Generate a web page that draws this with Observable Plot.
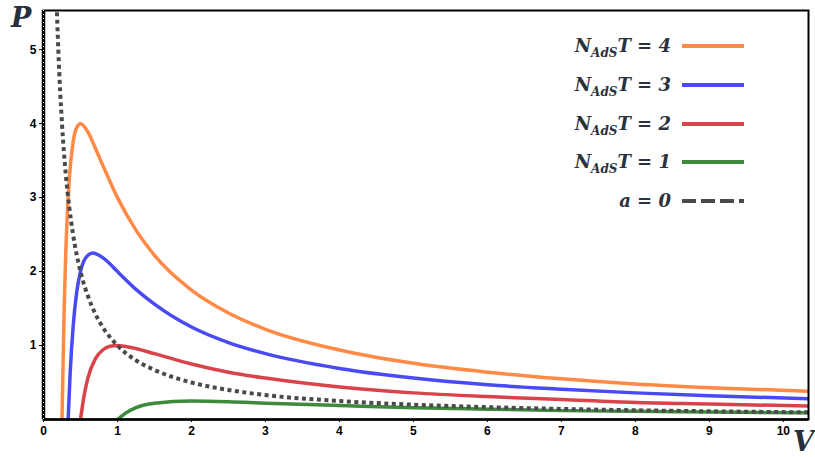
<!DOCTYPE html>
<html><head>
<meta charset="utf-8">
<script src="https://cdn.jsdelivr.net/npm/d3@7"></script>
<script src="https://cdn.jsdelivr.net/npm/@observablehq/plot@0.6"></script>
<style>
body{margin:0;background:#fff;}
#wrap{position:relative;width:815px;height:457px;overflow:hidden;}
.lab{position:absolute;font-family:"DejaVu Serif",serif;font-weight:bold;font-style:italic;color:#26303d;line-height:1;}
.row{position:absolute;left:0;width:815px;height:30px;}
.txt{position:absolute;right:144px;top:0;font-family:"DejaVu Serif",serif;font-weight:bold;font-style:italic;font-size:18px;color:#2a323e;white-space:nowrap;line-height:30px;}
.txt sub{font-size:12px;vertical-align:-5px;line-height:0;}
.sw{position:absolute;left:682px;width:62px;top:13px;height:4px;}
</style>
</head><body><div id="wrap"></div>
<script>
// N_AdS T = 4
const V4 = [0.25,0.28,0.3,0.35,0.4,0.45,0.5,0.6,0.7,0.8,1,1.25,1.5,2,2.5,3,4,5,6,7,8,9,10.4];
const P4 = [0,1.53,2.22,3.27,3.75,3.95,4,3.89,3.67,3.44,3,2.56,2.22,1.75,1.44,1.22,0.94,0.76,0.64,0.55,0.48,0.43,0.38];
// N_AdS T = 3
const V3 = [0.333,0.36,0.4,0.45,0.5,0.6,0.667,0.75,0.85,1,1.25,1.5,2,2.5,3,4,5,6,7,8,9,10.4];
const P3 = [0,0.62,1.25,1.73,2,2.22,2.25,2.22,2.15,2,1.76,1.56,1.25,1.04,0.89,0.69,0.56,0.47,0.41,0.36,0.32,0.28];
// N_AdS T = 2
const V2 = [0.5,0.55,0.6,0.7,0.8,0.9,1,1.2,1.5,2,2.5,3,4,5,6,7,8,9,10.4];
const P2 = [0,0.33,0.56,0.82,0.94,0.99,1,0.97,0.89,0.75,0.64,0.56,0.44,0.36,0.31,0.27,0.23,0.21,0.18];
// N_AdS T = 1
const V1 = [1,1.1,1.25,1.5,2,2.5,3,4,5,6,7,8,9,10.4];
const P1 = [0,0.08,0.16,0.22,0.25,0.24,0.22,0.19,0.16,0.14,0.12,0.11,0.10,0.09];
// a = 0
const V0 = [0.175,0.2,0.25,0.3,0.35,0.4,0.5,0.6,0.7,0.8,1,1.25,1.5,2,2.5,3,4,5,6,7,8,9,10.4];
const P0 = [5.71,5,4,3.33,2.86,2.5,2,1.67,1.43,1.25,1,0.8,0.67,0.5,0.4,0.33,0.25,0.2,0.167,0.143,0.125,0.111,0.096];

const xTicks = [0,1,2,3,4,5,6,7,8,9,10];
const yTicks = [1,2,3,4,5];
const seriesNames = ["N_AdS T = 4","N_AdS T = 3","N_AdS T = 2","N_AdS T = 1","a = 0"];
const seriesColors = ["#ff8a45","#4a4af5","#d9444a","#3d8a3d","#4a4a4a"];

const toRows = (V,P) => V.map((v,i)=>({V:v,P:P[i]}));
const s4 = toRows(V4,P4), s3 = toRows(V3,P3), s2 = toRows(V2,P2), s1 = toRows(V1,P1), s0 = toRows(V0,P0);

const chart = Plot.plot({
  width: 815, height: 457,
  marginLeft: 43, marginRight: 7, marginTop: 10, marginBottom: 38,
  style: {fontFamily: "'Liberation Sans', Arial, sans-serif", fontSize: "12px", fontWeight: "bold", color: "#000", background: "#fff"},
  x: {domain: [0, 10.34]},
  y: {domain: [0, 5.53]},
  marks: [
    Plot.axisX({ticks: xTicks, tickSize: 3, tickPadding: 4, label: null, tickFormat: d3.format("d"), fontWeight: "bold", fontSize: 12}),
    Plot.axisY({ticks: yTicks, tickSize: 4, tickPadding: 3, label: null, tickFormat: d3.format("d"), fontWeight: "bold", fontSize: 12}),
    Plot.line(s1, {x:"V", y:"P", stroke: seriesColors[3], strokeWidth: 3.5, curve: "monotone-x", clip: true}),
    Plot.line(s2, {x:"V", y:"P", stroke: seriesColors[2], strokeWidth: 3.5, curve: "monotone-x", clip: true}),
    Plot.line(s3, {x:"V", y:"P", stroke: seriesColors[1], strokeWidth: 3.5, curve: "monotone-x", clip: true}),
    Plot.line(s4, {x:"V", y:"P", stroke: seriesColors[0], strokeWidth: 3.5, curve: "monotone-x", clip: true}),
    Plot.line(s0, {x:"V", y:"P", stroke: seriesColors[4], strokeWidth: 4, strokeDasharray: "4,3.5", strokeLinecap: "butt", curve: "monotone-x", clip: true}),
    Plot.frame({stroke: "#000", strokeWidth: 2}),
    Plot.ruleY([0], {stroke: "#000", strokeWidth: 2.5}),
    Plot.ruleX([0], {stroke: "#000", strokeWidth: 3.5}),
    Plot.ruleX([0], {stroke: "#fff", strokeWidth: 1, strokeDasharray: "1,3", strokeLinecap: "butt"})
  ]
});
const wrap = document.getElementById("wrap");
wrap.appendChild(chart);

// axis names
const pl = document.createElement("div"); pl.className="lab"; pl.textContent="P";
Object.assign(pl.style,{left:"11px",top:"4px",fontSize:"27px"}); wrap.appendChild(pl);
const vl = document.createElement("div"); vl.className="lab"; vl.textContent="V";
Object.assign(vl.style,{left:"793px",top:"428px",fontSize:"27px"}); wrap.appendChild(vl);

// legend
const rowY = [46,85,124,162,201];
seriesNames.forEach((name,i)=>{
  const row = document.createElement("div"); row.className="row"; row.style.top=(rowY[i]-15)+"px";
  const t = document.createElement("div"); t.className="txt";
  if (name.startsWith("N_AdS")) {
    t.innerHTML = "N<sub>AdS</sub>T = " + name.slice(-1);
  } else {
    t.textContent = name;
  }
  row.appendChild(t);
  const sw = document.createElement("div"); sw.className="sw";
  if (i===4) {
    sw.style.background = "repeating-linear-gradient(90deg," + seriesColors[4] + " 0 14px, transparent 14px 19px)";
  } else sw.style.background = seriesColors[i];
  row.appendChild(sw);
  wrap.appendChild(row);
});
</script>
</body></html>
